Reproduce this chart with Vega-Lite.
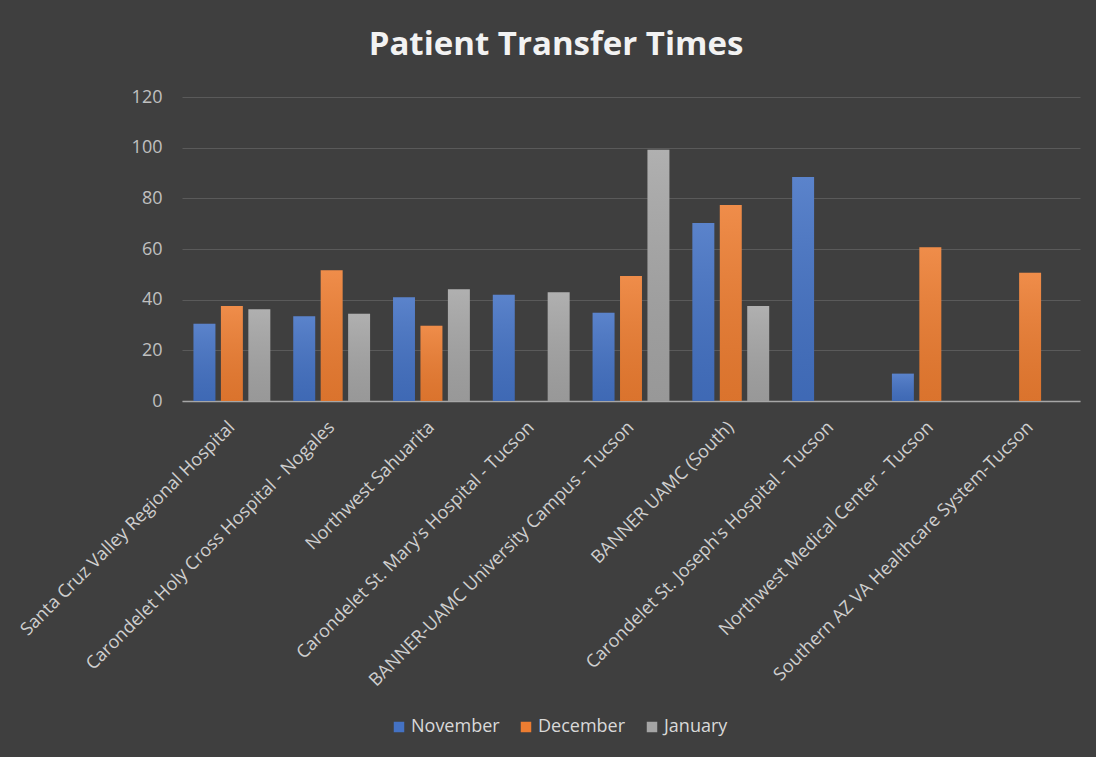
{
  "$schema": "https://vega.github.io/schema/vega-lite/v6.json",
  "width": 898,
  "height": 304,
  "autosize": {"type": "none"},
  "padding": {"left": 182, "top": 97, "right": 16, "bottom": 356},
  "background": "#3f3f3f",
  "config": {
    "font": "Open Sans",
    "view": {"stroke": null}
  },
  "title": {
    "text": "Patient Transfer Times",
    "font": "Open Sans",
    "fontSize": 33,
    "fontWeight": "bold",
    "color": "#f2f2f2",
    "anchor": "middle",
    "dx": -75,
    "baseline": "alphabetic",
    "offset": 0
  },
  "data": {
    "values": [
      {"hospital": "Santa Cruz Valley Regional Hospital", "month": "November", "minutes": 30.5},
      {"hospital": "Santa Cruz Valley Regional Hospital", "month": "December", "minutes": 37.5},
      {"hospital": "Santa Cruz Valley Regional Hospital", "month": "January", "minutes": 36.2},
      {"hospital": "Carondelet Holy Cross Hospital - Nogales", "month": "November", "minutes": 33.5},
      {"hospital": "Carondelet Holy Cross Hospital - Nogales", "month": "December", "minutes": 51.6},
      {"hospital": "Carondelet Holy Cross Hospital - Nogales", "month": "January", "minutes": 34.4},
      {"hospital": "Northwest Sahuarita", "month": "November", "minutes": 41.0},
      {"hospital": "Northwest Sahuarita", "month": "December", "minutes": 29.7},
      {"hospital": "Northwest Sahuarita", "month": "January", "minutes": 44.1},
      {"hospital": "Carondelet St. Mary's Hospital - Tucson", "month": "November", "minutes": 41.9},
      {"hospital": "Carondelet St. Mary's Hospital - Tucson", "month": "January", "minutes": 42.9},
      {"hospital": "BANNER-UAMC University Campus - Tucson", "month": "November", "minutes": 34.8},
      {"hospital": "BANNER-UAMC University Campus - Tucson", "month": "December", "minutes": 49.3},
      {"hospital": "BANNER-UAMC University Campus - Tucson", "month": "January", "minutes": 99.2},
      {"hospital": "BANNER UAMC (South)", "month": "November", "minutes": 70.3},
      {"hospital": "BANNER UAMC (South)", "month": "December", "minutes": 77.4},
      {"hospital": "BANNER UAMC (South)", "month": "January", "minutes": 37.5},
      {"hospital": "Carondelet St. Joseph's Hospital - Tucson", "month": "November", "minutes": 88.4},
      {"hospital": "Northwest Medical Center - Tucson", "month": "November", "minutes": 10.8},
      {"hospital": "Northwest Medical Center - Tucson", "month": "December", "minutes": 60.7},
      {"hospital": "Southern AZ VA Healthcare System-Tucson", "month": "December", "minutes": 50.6}
    ]
  },
  "encoding": {
    "x": {
      "field": "hospital",
      "type": "nominal",
      "sort": null,
      "scale": {"paddingInner": 0.23, "paddingOuter": 0.115},
      "axis": {
        "title": null,
        "labelAngle": -45,
        "labelFontSize": 18,
        "labelColor": "#cfcfcf",
        "labelLimit": 500,
        "labelPadding": 17,
        "labelOffset": -6,
        "ticks": false,
        "domainColor": "#a6a6a6",
        "domainWidth": 1.5
      }
    },
    "xOffset": {
      "field": "month",
      "type": "nominal",
      "sort": ["November", "December", "January"],
      "scale": {"paddingInner": 0.2, "paddingOuter": 0}
    },
    "y": {
      "field": "minutes",
      "type": "quantitative",
      "scale": {"domain": [0, 120]},
      "axis": {
        "title": null,
        "values": [0, 20, 40, 60, 80, 100, 120],
        "grid": true,
        "gridColor": "#5a5a5a",
        "gridWidth": 1,
        "domain": false,
        "ticks": false,
        "labelPadding": 20,
        "labelFontSize": 18,
        "labelColor": "#c0c0c0"
      }
    }
  },
  "layer": [
    {
      "mark": {"type": "bar"},
      "encoding": {
        "color": {
          "field": "month",
          "type": "nominal",
          "scale": {
            "domain": ["November", "December", "January"],
            "range": ["#4472C4", "#ED7D31", "#A5A5A5"]
          },
          "legend": {
            "title": null,
            "orient": "none",
            "legendX": 208,
            "legendY": 621,
            "direction": "horizontal",
            "symbolType": "square",
            "symbolSize": 110,
            "symbolStrokeWidth": 0,
            "labelFontSize": 18,
            "labelColor": "#d9d9d9",
            "labelOffset": 3,
            "columnPadding": 17
          }
        }
      }
    },
    {
      "mark": {
        "type": "bar",
        "fill": {
          "gradient": "linear",
          "x1": 0, "y1": 0, "x2": 0, "y2": 1,
          "stops": [
            {"offset": 0, "color": "rgba(255,255,255,0.12)"},
            {"offset": 1, "color": "rgba(0,0,0,0.08)"}
          ]
        }
      }
    }
  ]
}
